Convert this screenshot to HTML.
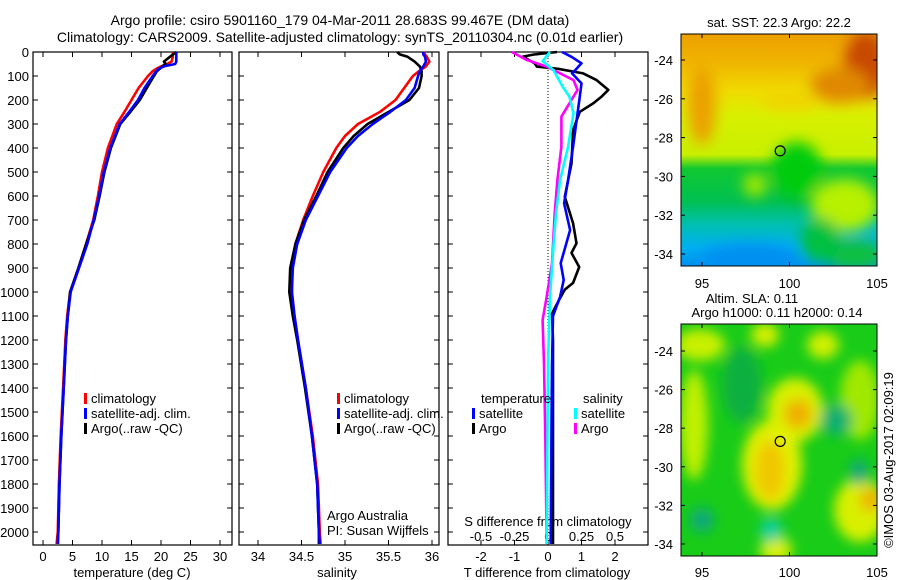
<!DOCTYPE html>
<html><head><meta charset="utf-8"><style>
body{margin:0;background:#fff;}
svg{display:block;font-family:"Liberation Sans",sans-serif;}
text{fill:#000;}
</style></head><body>
<svg id="chart" width="900" height="580" viewBox="0 0 900 580" xmlns="http://www.w3.org/2000/svg">
<defs>
<filter id="blur1" x="-50%" y="-50%" width="200%" height="200%"><feGaussianBlur stdDeviation="7"/></filter>
<filter id="blur2" x="-50%" y="-50%" width="200%" height="200%"><feGaussianBlur stdDeviation="6"/></filter>
<clipPath id="clipTop"><rect x="681" y="34" width="196" height="232"/></clipPath>
<clipPath id="clipBot"><rect x="681" y="324" width="196" height="232"/></clipPath>
<linearGradient id="sstBase" x1="0" y1="0" x2="0" y2="1">
<stop offset="0" stop-color="#eca000"/><stop offset="0.12" stop-color="#f0b400"/>
<stop offset="0.25" stop-color="#f0dc00"/><stop offset="0.35" stop-color="#d8f000"/>
<stop offset="0.52" stop-color="#c8f000"/><stop offset="0.58" stop-color="#10c830"/>
<stop offset="0.72" stop-color="#00c050"/><stop offset="0.82" stop-color="#00c0b0"/>
<stop offset="0.92" stop-color="#00b0f0"/><stop offset="1" stop-color="#0090f0"/>
</linearGradient>
</defs>
<text x="340" y="25" font-size="14" text-anchor="middle">Argo profile: csiro 5901160_179 04-Mar-2011 28.683S 99.467E (DM data)</text>
<text x="340" y="42" font-size="14" text-anchor="middle">Climatology: CARS2009. Satellite-adjusted climatology: synTS_20110304.nc (0.01d earlier)</text>
<g id="plots"></g>

<g>
<g clip-path="url(#clipTop)">
<rect x="681" y="34" width="196" height="232" fill="url(#sstBase)"/>
<g filter="url(#blur1)">
<ellipse cx="866" cy="65" rx="22" ry="34" fill="#c84800"/>
<ellipse cx="840" cy="85" rx="30" ry="18" fill="#e08800"/>
<ellipse cx="702" cy="105" rx="14" ry="40" fill="#eca000"/>
<ellipse cx="790" cy="100" rx="30" ry="10" fill="#f0d400"/>
<ellipse cx="797" cy="170" rx="25" ry="28" fill="#00cc10"/>
<ellipse cx="845" cy="205" rx="34" ry="26" fill="#b8f000"/>
<ellipse cx="855" cy="255" rx="30" ry="16" fill="#10c040"/>
<ellipse cx="820" cy="240" rx="20" ry="22" fill="#00c040"/>
<ellipse cx="750" cy="258" rx="50" ry="14" fill="#0090f0"/>
<ellipse cx="755" cy="185" rx="12" ry="12" fill="#a0e800"/>
</g>
</g>
<rect x="681" y="34" width="196" height="232" fill="none" stroke="#000"/>
</g>

<g>
<g clip-path="url(#clipBot)">
<rect x="681" y="324" width="196" height="232" fill="#18cc18"/>
<g filter="url(#blur2)">
<ellipse cx="700" cy="345" rx="25" ry="16" fill="#c8f000"/>
<ellipse cx="694" cy="425" rx="14" ry="55" fill="#c0f000"/>
<ellipse cx="765" cy="335" rx="14" ry="12" fill="#d8f000"/>
<ellipse cx="823" cy="345" rx="16" ry="14" fill="#d0f000"/>
<ellipse cx="860" cy="400" rx="20" ry="40" fill="#a0e800"/>
<ellipse cx="795" cy="410" rx="28" ry="32" fill="#d8f000"/>
<ellipse cx="798" cy="414" rx="14" ry="15" fill="#f0b000"/>
<ellipse cx="772" cy="465" rx="30" ry="45" fill="#e0f000"/>
<ellipse cx="770" cy="470" rx="15" ry="30" fill="#f0c800"/>
<ellipse cx="860" cy="510" rx="26" ry="32" fill="#d8f000"/>
<ellipse cx="870" cy="500" rx="10" ry="12" fill="#f0b000"/>
<ellipse cx="776" cy="550" rx="16" ry="14" fill="#d8f000"/>
<ellipse cx="742" cy="385" rx="20" ry="38" fill="#10b040"/>
<ellipse cx="702" cy="520" rx="12" ry="12" fill="#10a880"/>
<ellipse cx="771" cy="530" rx="11" ry="12" fill="#10d0a0"/>
<ellipse cx="859" cy="472" rx="9" ry="13" fill="#10a880"/>
<ellipse cx="836" cy="420" rx="16" ry="16" fill="#10b070"/>
</g>
</g>
<rect x="681" y="324" width="196" height="232" fill="none" stroke="#000"/>
</g>
<g id="maptext"></g>
<text transform="translate(893,460) rotate(-90)" font-size="13" text-anchor="middle">©IMOS 03-Aug-2017 02:09:19</text>

<script>
// ---------- data ----------
const depthTicks = [0,100,200,300,400,500,600,700,800,900,1000,1100,1200,1300,1400,1500,1600,1700,1800,1900,2000];
const tempTicks = [0,5,10,15,20,25,30];
const salTicks = [34,34.5,35,35.5,36];
const salTickLabels = ["34","34.5","35","35.5","36"];
const tDiffTicks = [-2,-1,0,1,2];
const sDiffTicks = [-0.5,-0.25,0,0.25,0.5];
const sDiffTickLabels = ["-0.5","-0.25","0","0.25","0.5"];

const tempDepth = [0,20,40,50,60,70,80,100,150,200,250,300,400,500,600,700,800,900,1000,1100,1200,1400,1600,1800,2000,2050];
const tempClim  = [22.0,22.0,21.8,21,20,19.2,18.6,17.8,16.2,15.0,13.8,12.5,11.0,10.0,9.3,8.5,7.3,6.0,4.6,4.1,3.8,3.4,3.0,2.7,2.5,2.3];
const tempSat   = [22.6,22.6,22.6,22.4,20.5,19.6,19.2,18.6,17.2,16.1,14.6,13.0,11.4,10.3,9.5,8.6,7.5,6.1,4.7,4.2,3.9,3.5,3.1,2.8,2.6,2.5];
const tempArgo  = [22.6,21.5,20.5,20.8,20.2,19.8,19.3,18.8,17.6,16.4,14.8,13.1,11.5,10.4,9.6,8.7,7.3,6.0,4.6,4.2,3.9,3.5,3.1,2.8,2.6,2.5];

const salDepth = [0,10,20,40,60,80,100,150,200,250,300,350,400,500,600,700,800,900,1000,1100,1200,1400,1600,1800,2000,2050];
const salClim  = [35.9,35.92,35.94,35.97,35.93,35.85,35.78,35.68,35.58,35.4,35.15,35.0,34.9,34.75,34.63,34.52,34.43,34.39,34.39,34.42,34.46,34.55,34.63,34.69,34.71,34.72];
const salSat   = [35.9,35.9,35.92,35.93,35.9,35.86,35.84,35.8,35.7,35.52,35.32,35.15,35.02,34.83,34.69,34.55,34.45,34.4,34.39,34.42,34.46,34.55,34.62,34.68,34.7,34.71];
const salArgo  = [35.6,35.63,35.72,35.8,35.86,35.88,35.88,35.85,35.74,35.5,35.26,35.1,34.98,34.8,34.67,34.53,34.43,34.37,34.36,34.4,34.45,34.54,34.62,34.68,34.7,34.7];

const tSatDepth = [0,20,47,70,89,131,186,269,394,533,631,742,820,880,950,1020,1100,1300,1600,2050];
const tSatDiff  = [0.42,0.7,1.0,0.85,0.72,1.0,0.95,0.87,0.75,0.6,0.48,0.66,0.5,0.38,0.47,0.36,0.15,0.12,0.1,0.08];
const tArgoDepth = [0,10,19,47,61,70,89,117,158,186,214,249,325,464,603,714,797,837,896,962,990,1033,1090,1200,1600,2050];
const tArgoDiff  = [0.27,-0.4,-0.75,-0.4,-0.33,0.3,1.05,1.45,1.8,1.6,1.35,0.95,0.75,0.7,0.5,0.75,0.85,0.7,0.93,0.75,0.5,0.33,0.12,0.15,0.15,0.15];
const sSatDepth = [0,38,75,145,186,255,394,533,672,811,1019,1300,2050];
const sSatDiff  = [0.015,-0.04,0.04,0.11,0.16,0.19,0.15,0.09,0.06,0.04,0.015,0.0,-0.01];
const sArgoDepth = [0,33,61,117,158,242,269,394,533,672,881,1019,1117,1300,1600,2050];
const sArgoDiff  = [-0.27,-0.16,-0.01,0.19,0.22,0.13,0.1,0.1,0.07,0.05,0.03,-0.01,-0.04,-0.03,-0.02,-0.01];

const latTicks = [-24,-26,-28,-30,-32,-34];
const lonTicks = [95,100,105];
const argoLon = 99.467, argoLat = -28.683;

// ---------- axes ----------
const NS = "http://www.w3.org/2000/svg";
const TOP = 52, BOT = 545;
const yD = d => TOP + d * 0.24;
const xT = v => 43 + v * 5.9;
const xS = v => 258 + (v - 34) * 87;
const xTD = v => 548 + v * 33.5;
const xSD = v => 548 + v * 134;
const mapLonX = v => 702 + (v - 95) * 17.5;
const topLatY = v => 60 + (-24 - v) * 19.4;
const botLatY = v => 351 + (-24 - v) * 19.3;

const root = document.getElementById('plots');
function mk(tag, attrs, parent) {
  const e = document.createElementNS(NS, tag);
  for (const k in attrs) e.setAttribute(k, attrs[k]);
  (parent || root).appendChild(e);
  return e;
}
function txt(x, y, s, size, anchor, parent) {
  const t = mk('text', {x: x, y: y, 'font-size': size, 'text-anchor': anchor}, parent);
  t.textContent = s;
  return t;
}

const panels = [{l:33,r:232,name:'temperature'},{l:239,r:439,name:'salinity'},{l:448,r:648,name:'difference'}];
panels.forEach(p => {
  const g = mk('g', {});
  
  
  const fr = mk('rect', {x:p.l, y:TOP, width:p.r-p.l, height:BOT-TOP, fill:'none', stroke:'#000', 'stroke-width':1.2}, g);
  
  
  depthTicks.forEach(d => {
    mk('line', {x1:p.l, x2:p.l+5, y1:yD(d), y2:yD(d), stroke:'#000'}, g);
    mk('line', {x1:p.r-5, x2:p.r, y1:yD(d), y2:yD(d), stroke:'#000'}, g);
  });
});
const dl = mk('g', {});


depthTicks.forEach(d => txt(29, yD(d) + 5, String(d), 13, 'end', dl));

function xAxis(ticks, labels, fx, p, labelY, name, topTicks) {
  const g = mk('g', {});
  
  
  ticks.forEach((v, i) => {
    const x = fx(v);
    mk('line', {x1:x, x2:x, y1:BOT, y2:BOT-5, stroke:'#000'}, g);
    if (topTicks) mk('line', {x1:x, x2:x, y1:TOP, y2:TOP+5, stroke:'#000'}, g);
    txt(x, labelY, labels[i], 13, 'middle', g);
  });
}
xAxis(tempTicks, tempTicks.map(String), xT, panels[0], 561, 'temperature-x-axis', true);
xAxis(salTicks, salTickLabels, xS, panels[1], 561, 'salinity-x-axis', true);
xAxis(tDiffTicks, tDiffTicks.map(String), xTD, panels[2], 561, 't-diff-x-axis', true);
const sdg = mk('g', {});


sDiffTicks.forEach((v, i) => txt(xSD(v), 541, sDiffTickLabels[i], 13, 'middle', sdg));

let t;
t = txt(132, 577, 'temperature (deg C)', 13, 'middle');  
t = txt(337, 577, 'salinity', 13, 'middle');  
t = txt(547, 577, 'T difference from climatology', 13, 'middle');  
t = txt(548, 526, 'S difference from climatology', 13, 'middle');  
t = txt(327, 520, 'Argo Australia', 13, 'start');  
t = txt(327, 535, 'PI: Susan Wijffels', 13, 'start');  

const zl = mk('line', {x1:xTD(0), x2:xTD(0), y1:TOP, y2:BOT, stroke:'#000', 'stroke-dasharray':'1,2'});



function series(depths, vals, fx, color, name) {
  const pts = depths.map((d, i) => fx(vals[i]).toFixed(1) + ',' + yD(d).toFixed(1)).join(' ');
  const pl = mk('polyline', {points: pts, fill:'none', stroke: color, 'stroke-width': 2.6, 'stroke-linejoin':'round'});
  
  
}
series(tempDepth, tempClim, xT, '#ff0000', 'temp-climatology-line');
series(tempDepth, tempArgo, xT, '#000000', 'temp-argo-line');
series(tempDepth, tempSat, xT, '#0000ff', 'temp-satellite-line');
series(salDepth, salClim, xS, '#ff0000', 'sal-climatology-line');
series(salDepth, salArgo, xS, '#000000', 'sal-argo-line');
series(salDepth, salSat, xS, '#0000ff', 'sal-satellite-line');
series(tArgoDepth, tArgoDiff, xTD, '#000000', 't-diff-argo-line');
series(tSatDepth, tSatDiff, xTD, '#0000ff', 't-diff-satellite-line');
series(sArgoDepth, sArgoDiff, xSD, '#ff00ff', 's-diff-argo-line');
series(sSatDepth, sSatDiff, xSD, '#00ffff', 's-diff-satellite-line');

function legend(x, y, color, label, name) {
  const g = mk('g', {});
  
  
  if (color) mk('rect', {x:x, y:y-10, width:3, height:11, fill:color}, g);
  txt(x + 7, y, label, 13, 'start', g);
}
legend(84, 403, '#ff0000', 'climatology', 'legend-temp-climatology');
legend(84, 418, '#0000ff', 'satellite-adj. clim.', 'legend-temp-satellite');
legend(84, 433, '#000000', 'Argo(..raw -QC)', 'legend-temp-argo');
legend(337, 403, '#ff0000', 'climatology', 'legend-sal-climatology');
legend(337, 418, '#0000ff', 'satellite-adj. clim.', 'legend-sal-satellite');
legend(337, 433, '#000000', 'Argo(..raw -QC)', 'legend-sal-argo');
legend(474, 403, null, 'temperature', 'legend-temperature-heading');
legend(472, 418, '#0000ff', 'satellite', 'legend-t-satellite');
legend(472, 433, '#000000', 'Argo', 'legend-t-argo');
legend(576, 403, null, 'salinity', 'legend-salinity-heading');
legend(574, 418, '#00ffff', 'satellite', 'legend-s-satellite');
legend(574, 433, '#ff00ff', 'Argo', 'legend-s-argo');

const mt = document.getElementById('maptext');
function mapAxes(latY, top, bottom, labY, name) {
  const g = mk('g', {}, mt);
  
  
  latTicks.forEach(v => {
    const y = latY(v);
    mk('line', {x1:681, x2:685, y1:y, y2:y, stroke:'#000'}, g);
    mk('line', {x1:873, x2:877, y1:y, y2:y, stroke:'#000'}, g);
    txt(673, y + 5, String(v), 13, 'end', g);
  });
  lonTicks.forEach(v => {
    const x = mapLonX(v);
    mk('line', {x1:x, x2:x, y1:bottom, y2:bottom-4, stroke:'#000'}, g);
    mk('line', {x1:x, x2:x, y1:top, y2:top+4, stroke:'#000'}, g);
    txt(x, labY, String(v), 13, 'middle', g);
  });
  const c = mk('circle', {cx:mapLonX(argoLon), cy:latY(argoLat), r:5, fill:'none', stroke:'#000', 'stroke-width':1.2}, g);
  
  
}
mapAxes(topLatY, 34, 266, 288, 'sst-map-axes');
mapAxes(botLatY, 324, 556, 577, 'sla-map-axes');
t = txt(779, 27, 'sat. SST: 22.3 Argo: 22.2', 13, 'middle', mt);  
t = txt(752, 303, 'Altim. SLA: 0.11', 13, 'middle', mt);  
t = txt(777, 317, 'Argo h1000: 0.11 h2000: 0.14', 13, 'middle', mt);  
</script>
</svg>
</body></html>
